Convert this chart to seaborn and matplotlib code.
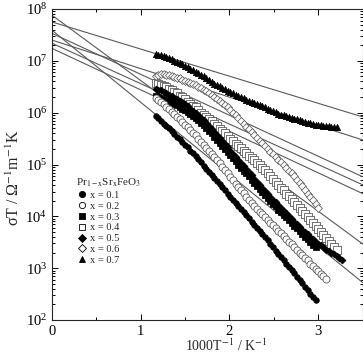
import numpy as np
import pandas as pd
import seaborn as sns
import matplotlib
matplotlib.use("Agg")
import matplotlib.pyplot as plt
from matplotlib.lines import Line2D
from matplotlib.ticker import LogLocator, MultipleLocator, NullFormatter

# 1000/T grid (K^-1) shared by all compositions
inv_T = [1.17, 1.20, 1.23, 1.26, 1.29, 1.32, 1.35, 1.38, 1.41, 1.44,
         1.47, 1.50, 1.53, 1.56, 1.59, 1.62, 1.65, 1.68, 1.71, 1.74,
         1.77, 1.80, 1.83, 1.86, 1.89, 1.92, 1.95, 1.98, 2.01, 2.04,
         2.07, 2.10, 2.13, 2.16, 2.19, 2.22, 2.25, 2.28, 2.31, 2.34,
         2.37, 2.40, 2.43, 2.46, 2.49, 2.52, 2.55, 2.58, 2.61, 2.64,
         2.67, 2.70, 2.73, 2.76, 2.79, 2.82, 2.85, 2.88, 2.91, 2.94,
         2.97, 3.00, 3.03, 3.06, 3.09, 3.12, 3.15, 3.18, 3.21, 3.24,
         3.27]

# log10(sigma*T)
log_st_01 = [5.94, 5.89, 5.84, 5.79, 5.75, 5.70, 5.65, 5.59, 5.54, 5.49,
             5.43, 5.38, 5.33, 5.27, 5.22, 5.16, 5.10, 5.04, 4.98, 4.92,
             4.86, 4.80, 4.74, 4.68, 4.62, 4.56, 4.50, 4.44, 4.38, 4.32,
             4.26, 4.20, 4.14, 4.08, 4.02, 3.96, 3.90, 3.84, 3.78, 3.72,
             3.66, 3.60, 3.54, 3.47, 3.41, 3.34, 3.28, 3.22, 3.15, 3.09,
             3.02, 2.96, 2.90, 2.83, 2.77, 2.71, 2.64, 2.58, 2.51, 2.45,
             2.39]
log_st_02 = [6.28, 6.24, 6.20, 6.16, 6.11, 6.07, 6.02, 5.97, 5.92, 5.87,
             5.82, 5.77, 5.72, 5.67, 5.61, 5.56, 5.50, 5.44, 5.38, 5.32,
             5.26, 5.20, 5.14, 5.08, 5.02, 4.95, 4.89, 4.83, 4.76, 4.70,
             4.63, 4.57, 4.51, 4.45, 4.38, 4.32, 4.26, 4.20, 4.14, 4.09,
             4.04, 3.99, 3.93, 3.88, 3.83, 3.78, 3.72, 3.67, 3.62, 3.57,
             3.51, 3.46, 3.41, 3.36, 3.30, 3.25, 3.20, 3.15, 3.09, 3.04,
             2.99, 2.94, 2.89, 2.84, 2.80]
log_st_03 = [6.32, 6.30, 6.29, 6.27, 6.24, 6.22, 6.20, 6.17, 6.14, 6.11,
             6.08, 6.05, 6.01, 5.97, 5.93, 5.89, 5.85, 5.80, 5.76, 5.70,
             5.65, 5.60, 5.54, 5.48, 5.42, 5.36, 5.30, 5.24, 5.18, 5.12,
             5.06, 5.00, 4.94, 4.88, 4.83, 4.77, 4.71, 4.65, 4.59, 4.53,
             4.47, 4.41, 4.35, 4.29, 4.24, 4.19, 4.13, 4.08, 4.03, 3.98,
             3.92, 3.87, 3.82, 3.77, 3.71, 3.66, 3.61, 3.56, 3.50, 3.45,
             3.40]
log_st_04 = [6.57, 6.55, 6.54, 6.51, 6.49, 6.46, 6.43, 6.40, 6.37, 6.33,
             6.30, 6.26, 6.21, 6.17, 6.13, 6.10, 6.05, 6.00, 5.96, 5.92,
             5.88, 5.83, 5.79, 5.74, 5.69, 5.64, 5.60, 5.55, 5.50, 5.45,
             5.40, 5.36, 5.31, 5.26, 5.22, 5.17, 5.12, 5.08, 5.03, 4.99,
             4.94, 4.89, 4.83, 4.78, 4.72, 4.67, 4.61, 4.55, 4.50, 4.44,
             4.39, 4.33, 4.27, 4.22, 4.16, 4.10, 4.05, 3.99, 3.93, 3.87,
             3.82, 3.76, 3.70, 3.64, 3.59, 3.53, 3.47, 3.41, 3.35]
log_st_05 = [6.46, 6.44, 6.43, 6.40, 6.38, 6.35, 6.32, 6.29, 6.26, 6.23,
             6.20, 6.16, 6.12, 6.08, 6.04, 6.00, 5.95, 5.90, 5.86, 5.80,
             5.74, 5.69, 5.63, 5.57, 5.51, 5.45, 5.39, 5.33, 5.27, 5.21,
             5.15, 5.09, 5.03, 4.97, 4.91, 4.85, 4.79, 4.73, 4.67, 4.61,
             4.55, 4.49, 4.43, 4.37, 4.32, 4.27, 4.21, 4.16, 4.11, 4.06,
             4.00, 3.95, 3.90, 3.85, 3.80, 3.74, 3.69, 3.65, 3.60, 3.56,
             3.51, 3.47, 3.44, 3.40, 3.36, 3.33, 3.30, 3.27, 3.24, 3.20,
             3.16]
log_st_06 = [6.71, 6.72, 6.74, 6.74, 6.73, 6.72, 6.70, 6.69, 6.67, 6.66,
             6.64, 6.62, 6.60, 6.58, 6.56, 6.53, 6.50, 6.47, 6.44, 6.41,
             6.38, 6.34, 6.31, 6.27, 6.23, 6.19, 6.15, 6.10, 6.05, 6.00,
             5.95, 5.89, 5.84, 5.79, 5.73, 5.68, 5.62, 5.57, 5.51, 5.46,
             5.41, 5.36, 5.30, 5.25, 5.20, 5.15, 5.09, 5.04, 4.99, 4.94,
             4.88, 4.83, 4.77, 4.71, 4.64, 4.58, 4.51, 4.44, 4.38, 4.31,
             4.24, 4.17]
log_st_07 = [7.14, 7.12, 7.11, 7.09, 7.07, 7.05, 7.03, 7.00, 6.98, 6.96,
             6.93, 6.91, 6.88, 6.85, 6.82, 6.79, 6.76, 6.73, 6.70, 6.66,
             6.63, 6.59, 6.56, 6.54, 6.51, 6.48, 6.45, 6.42, 6.40, 6.37,
             6.35, 6.32, 6.30, 6.28, 6.25, 6.23, 6.21, 6.18, 6.16, 6.14,
             6.12, 6.10, 6.07, 6.05, 6.03, 6.01, 5.98, 5.96, 5.95, 5.93,
             5.91, 5.90, 5.88, 5.87, 5.85, 5.84, 5.82, 5.81, 5.80, 5.79,
             5.77, 5.76, 5.76, 5.75, 5.74, 5.74, 5.73, 5.73, 5.72]

compositions = ["0.1", "0.2", "0.3", "0.4", "0.5", "0.6", "0.7"]

# Arrhenius fits: log10(sigma*T) = logA + slope * 1000/T
fit_logA = [7.59, 7.24, 7.88, 7.53, 7.34, 7.40, 7.75]
fit_slope = [-1.39, -0.80, -1.26, -0.79, -0.78, -0.55, -0.523]

series = [log_st_01, log_st_02, log_st_03, log_st_04, log_st_05, log_st_06, log_st_07]
rows = []
for comp, vals in zip(compositions, series):
    for t, v in zip(inv_T, vals):
        rows.append({"inv_T": t, "sigmaT": 10 ** v, "x": comp})
df = pd.DataFrame(rows)

sns.set_style("ticks")
plt.rcParams["font.family"] = ["Liberation Serif", "DejaVu Serif"]
plt.rcParams["mathtext.fontset"] = "stix"
plt.rcParams["axes.linewidth"] = 0.8

fig = plt.figure(figsize=(3.63, 3.59), dpi=100)
ax = fig.add_axes([0.1433, 0.1086, 0.8554, 0.8663])

# fitted lines across the full range
x_ends = np.array([0.0, 3.5])
for a, b in zip(fit_logA, fit_slope):
    sns.lineplot(x=x_ends, y=10 ** (a + b * x_ends), ax=ax, color="0.35",
                 lw=0.8, zorder=1)

styles = {
    "0.1": dict(marker="o", fc="black", ec="black", s=16),
    "0.2": dict(marker="o", fc="white", ec="0.3", s=26),
    "0.3": dict(marker="s", fc="black", ec="black", s=14),
    "0.4": dict(marker="s", fc="white", ec="0.3", s=28),
    "0.5": dict(marker="D", fc="black", ec="black", s=12),
    "0.6": dict(marker="D", fc="white", ec="0.35", s=16),
    "0.7": dict(marker="^", fc="black", ec="black", s=20),
}
draw_order = ["0.1", "0.3", "0.2", "0.4", "0.5", "0.6", "0.7"]
for comp in draw_order:
    st = styles[comp]
    sub = df[df["x"] == comp]
    sns.scatterplot(data=sub, x="inv_T", y="sigmaT", ax=ax, marker=st["marker"],
                    s=st["s"], facecolor=st["fc"], edgecolor=st["ec"],
                    linewidth=0.55, zorder=3, legend=False)

ax.set_yscale("log")
ax.set_xlim(0, 3.5)
ax.set_ylim(1e2, 1e8)
ax.xaxis.set_major_locator(MultipleLocator(1))
ax.xaxis.set_minor_locator(MultipleLocator(0.5))
ax.yaxis.set_major_locator(LogLocator(base=10, numticks=10))
ax.yaxis.set_minor_locator(LogLocator(base=10, subs=np.arange(2, 10), numticks=20))
ax.yaxis.set_minor_formatter(NullFormatter())
ax.tick_params(which="both", direction="in", top=True, right=True,
               labelsize=10.5, width=0.7, colors="black")
ax.tick_params(which="major", length=4.5)
ax.tick_params(which="minor", length=2.5)
ax.xaxis.get_offset_text().set_visible(False)
ax.yaxis.get_offset_text().set_visible(False)

ax.set_xlabel("1000T$^{-1}$ / K$^{-1}$", fontsize=10)
ax.set_ylabel("σT / Ω$^{-1}$m$^{-1}$K", fontsize=11.5)
ax.xaxis.set_label_coords(0.56, -0.055)
ax.yaxis.set_label_coords(-0.092, 0.457)

handles = []
for comp in compositions:
    st = styles[comp]
    handles.append(Line2D([], [], ls="none", marker=st["marker"], markersize=4.5,
                          markerfacecolor=st["fc"], markeredgecolor="black",
                          markeredgewidth=0.6))
leg = ax.legend(handles, ["x = " + c for c in compositions],
                title="Pr$_{\\mathrm{1-x}}$Sr$_{\\mathrm{x}}$FeO$_{\\mathrm{3}}$",
                loc="upper left", bbox_to_anchor=(0.065, 0.475), frameon=False,
                fontsize=7.5, title_fontsize=8, handletextpad=0.3,
                labelspacing=0.15, handlelength=1.0, borderaxespad=0)
leg._legend_box.align = "left"

fig.savefig("out.png", dpi=100)
